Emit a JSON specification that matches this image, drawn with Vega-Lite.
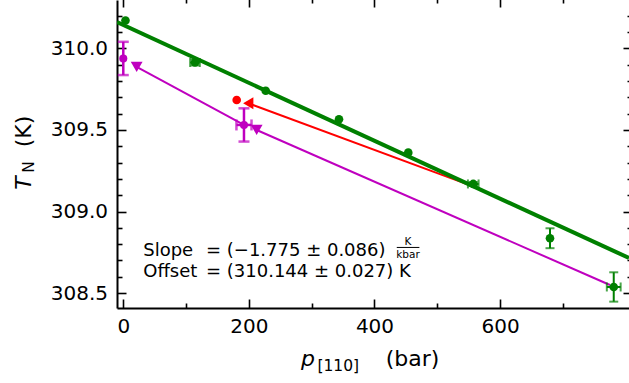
{
  "$schema": "https://vega.github.io/schema/vega-lite/v6.json",
  "width": 512,
  "height": 308,
  "autosize": {"type": "none"},
  "padding": {"left": 117, "top": 0, "right": 0, "bottom": 75},
  "config": {
    "view": {"stroke": null},
    "font": "DejaVu Sans",
    "axis": {
      "grid": false,
      "domainColor": "black",
      "domainWidth": 2,
      "tickColor": "black",
      "tickWidth": 1.6,
      "labelColor": "black",
      "labelFont": "DejaVu Sans",
      "labelFontSize": 20,
      "labelOverlap": false,
      "labelFlush": false,
      "title": null
    }
  },
  "datasets": {
    "fit": [{"x": -10, "y": 310.1618}, {"x": 805.3, "y": 308.7146}],
    "magentaLines": [
      {"seg": "A", "x": 192.2, "y": 309.531},
      {"seg": "A", "x": 21.3, "y": 309.887},
      {"seg": "B", "x": 775, "y": 308.549},
      {"seg": "B", "x": 212.4, "y": 309.5}
    ],
    "redLine": [{"x": 199, "y": 309.664}, {"x": 549.5, "y": 309.165}],
    "green": [
      {"x": 3.5, "y": 310.172},
      {"x": 114.2, "y": 309.914},
      {"x": 226.8, "y": 309.741},
      {"x": 343.5, "y": 309.566},
      {"x": 453.8, "y": 309.361},
      {"x": 557.3, "y": 309.169},
      {"x": 679.5, "y": 308.836},
      {"x": 781, "y": 308.537}
    ],
    "greenYerr": [
      {"x": 114.2, "ylo": 309.896, "yhi": 309.932},
      {"x": 557.3, "ylo": 309.157, "yhi": 309.181},
      {"x": 679.5, "ylo": 308.775, "yhi": 308.897},
      {"x": 781, "ylo": 308.447, "yhi": 308.627}
    ],
    "greenXerr": [
      {"y": 309.914, "xlo": 106.5, "xhi": 121.9},
      {"y": 309.169, "xlo": 548.8, "xhi": 565.8},
      {"y": 308.537, "xlo": 770, "xhi": 792}
    ],
    "magenta": [
      {"x": 0, "y": 309.939},
      {"x": 192.2, "y": 309.531}
    ],
    "magentaYerr": [
      {"x": 0, "ylo": 309.837, "yhi": 310.041},
      {"x": 192.2, "ylo": 309.429, "yhi": 309.633}
    ],
    "magentaXerr": [
      {"y": 309.531, "xlo": 180.2, "xhi": 204.2}
    ],
    "magentaTri": [
      {"x": 21.3, "y": 309.887},
      {"x": 212.4, "y": 309.5}
    ],
    "redDot": [{"x": 180.6, "y": 309.684}],
    "redTri": [{"x": 199, "y": 309.664}],
    "labelWords": [
      {"x": 31.8, "y": 308.727, "text": "Slope"},
      {"x": 31.8, "y": 308.596, "text": "Offset"}
    ],
    "labelValues": [
      {"x": 131.7, "y": 308.727, "text": "= (−1.775 ± 0.086)"},
      {"x": 131.7, "y": 308.596, "text": "= (310.144 ± 0.027) K"}
    ],
    "fracText": [
      {"x": 453.3, "y": 308.7975, "text": "K"},
      {"x": 453.3, "y": 308.7178, "text": "kbar"}
    ],
    "fracBar": [{"x": 435.5, "x2": 471.5, "y": 308.7795}],
    "xTitleItalic": [{"x": 294.0, "y": 308.052, "text": "p"}],
    "xTitleSub": [{"x": 342.4, "y": 308.0215, "text": "[110]"}],
    "xTitleUnit": [{"x": 460.5, "y": 308.052, "text": "(bar)"}],
    "yTitleItalic": [{"x": -146.2, "y": 309.175, "text": "T"}],
    "yTitleSub": [{"x": -141.5, "y": 309.273, "text": "N"}],
    "yTitleUnit": [{"x": -146.2, "y": 309.491, "text": "(K)"}]
  },
  "encoding": {
    "x": {"field": "x", "type": "quantitative", "scale": {"domain": [-10, 805.3], "nice": false, "zero": false}, "axis": null},
    "y": {"field": "y", "type": "quantitative", "scale": {"domain": [308.408, 310.2975], "nice": false, "zero": false}, "axis": null}
  },
  "resolve": {"axis": {"x": "independent", "y": "independent"}},
  "layer": [
    {
      "data": {"name": "magentaLines"},
      "mark": {"type": "line", "color": "#bf00bf", "strokeWidth": 2},
      "encoding": {
        "detail": {"field": "seg"},
        "x": {"field": "x", "type": "quantitative", "scale": {"domain": [-10, 805.3], "nice": false, "zero": false},
          "axis": {"orient": "bottom", "values": [0, 100, 200, 300, 400, 500, 600, 700],
            "labelExpr": "datum.value % 200 === 0 ? datum.label : ''",
            "tickSize": {"condition": {"test": "datum.value % 200 === 0", "value": -9}, "value": -5},
            "labelPadding": 17, "title": null}},
        "y": {"field": "y", "type": "quantitative", "scale": {"domain": [308.408, 310.2975], "nice": false, "zero": false},
          "axis": {"orient": "left", "values": [308.5, 308.6, 308.7, 308.8, 308.9, 309.0, 309.1, 309.2, 309.3, 309.4, 309.5, 309.6, 309.7, 309.8, 309.9, 310.0, 310.1, 310.2],
            "labelExpr": "abs(datum.value * 2 - round(datum.value * 2)) < 0.001 ? format(datum.value, '.1f') : ''",
            "tickSize": {"condition": {"test": "abs(datum.value * 2 - round(datum.value * 2)) < 0.001", "value": -9}, "value": -5},
            "labelPadding": 18.5, "title": null}}
      }
    },
    {
      "data": {"name": "redLine"},
      "mark": {"type": "line", "color": "#ff0000", "strokeWidth": 2},
      "encoding": {
        "x": {"field": "x", "type": "quantitative", "scale": {"domain": [-10, 805.3], "nice": false, "zero": false},
          "axis": {"orient": "top", "offset": 2, "values": [0, 100, 200, 300, 400, 500, 600, 700], "labels": false,
            "tickSize": {"condition": {"test": "datum.value % 200 === 0", "value": -9}, "value": -5},
            "domain": false, "title": null}},
        "y": {"field": "y", "type": "quantitative", "scale": {"domain": [308.408, 310.2975], "nice": false, "zero": false},
          "axis": {"orient": "right", "offset": 3, "values": [308.5, 308.6, 308.7, 308.8, 308.9, 309.0, 309.1, 309.2, 309.3, 309.4, 309.5, 309.6, 309.7, 309.8, 309.9, 310.0, 310.1, 310.2], "labels": false,
            "tickSize": {"condition": {"test": "abs(datum.value * 2 - round(datum.value * 2)) < 0.001", "value": -9}, "value": -5},
            "domain": false, "title": null}}
      }
    },
    {
      "data": {"name": "fit"},
      "mark": {"type": "line", "color": "#008000", "strokeWidth": 4, "clip": true}
    },
    {
      "data": {"name": "greenYerr"},
      "mark": {"type": "errorbar", "color": "#008000", "ticks": {"size": 9, "thickness": 2}, "thickness": 2},
      "encoding": {
        "y": {"field": "ylo", "type": "quantitative", "scale": {"domain": [308.408, 310.2975], "nice": false, "zero": false}, "axis": null},
        "y2": {"field": "yhi"}
      }
    },
    {
      "data": {"name": "greenXerr"},
      "mark": {"type": "errorbar", "color": "#008000", "ticks": {"size": 9, "thickness": 2}, "thickness": 2},
      "encoding": {
        "x": {"field": "xlo", "type": "quantitative", "scale": {"domain": [-10, 805.3], "nice": false, "zero": false}, "axis": null},
        "x2": {"field": "xhi"}
      }
    },
    {
      "data": {"name": "green"},
      "mark": {"type": "point", "shape": "circle", "filled": true, "color": "#008000", "opacity": 1, "size": 75}
    },
    {
      "data": {"name": "magentaYerr"},
      "mark": {"type": "errorbar", "color": "#bf00bf", "ticks": {"size": 11, "thickness": 2.5}, "thickness": 2.5},
      "encoding": {
        "y": {"field": "ylo", "type": "quantitative", "scale": {"domain": [308.408, 310.2975], "nice": false, "zero": false}, "axis": null},
        "y2": {"field": "yhi"}
      }
    },
    {
      "data": {"name": "magentaXerr"},
      "mark": {"type": "errorbar", "color": "#bf00bf", "ticks": {"size": 11, "thickness": 2.5}, "thickness": 2.5},
      "encoding": {
        "x": {"field": "xlo", "type": "quantitative", "scale": {"domain": [-10, 805.3], "nice": false, "zero": false}, "axis": null},
        "x2": {"field": "xhi"}
      }
    },
    {
      "data": {"name": "magenta"},
      "mark": {"type": "point", "shape": "circle", "filled": true, "color": "#bf00bf", "opacity": 1, "size": 65}
    },
    {
      "data": {"name": "redDot"},
      "mark": {"type": "point", "shape": "circle", "filled": true, "color": "#ff0000", "opacity": 1, "size": 75}
    },
    {
      "data": {"name": "magentaTri"},
      "mark": {"type": "point", "shape": "triangle-down", "filled": true, "color": "#bf00bf", "opacity": 1, "size": 140}
    },
    {
      "data": {"name": "redTri"},
      "mark": {"type": "point", "shape": "triangle-left", "filled": true, "color": "#ff0000", "opacity": 1, "size": 140}
    },
    {
      "data": {"name": "fracBar"},
      "mark": {"type": "rule", "color": "black", "strokeWidth": 1},
      "encoding": {
        "x2": {"field": "x2"}
      }
    },
    {
      "data": {"name": "labelWords"},
      "mark": {"type": "text", "align": "left", "baseline": "alphabetic", "fontSize": 18, "font": "DejaVu Sans", "color": "black"},
      "encoding": {"text": {"field": "text"}}
    },
    {
      "data": {"name": "labelValues"},
      "mark": {"type": "text", "align": "left", "baseline": "alphabetic", "fontSize": 18, "font": "DejaVu Sans", "color": "black"},
      "encoding": {"text": {"field": "text"}}
    },
    {
      "data": {"name": "fracText"},
      "mark": {"type": "text", "align": "center", "baseline": "alphabetic", "fontSize": 10.5, "font": "DejaVu Sans", "color": "black"},
      "encoding": {"text": {"field": "text"}}
    },
    {
      "data": {"name": "xTitleItalic"},
      "mark": {"type": "text", "align": "center", "baseline": "alphabetic", "fontSize": 22, "fontStyle": "italic", "font": "DejaVu Sans", "color": "black"},
      "encoding": {"text": {"field": "text"}}
    },
    {
      "data": {"name": "xTitleSub"},
      "mark": {"type": "text", "align": "center", "baseline": "alphabetic", "fontSize": 15.5, "font": "DejaVu Sans", "color": "black"},
      "encoding": {"text": {"field": "text"}}
    },
    {
      "data": {"name": "xTitleUnit"},
      "mark": {"type": "text", "align": "center", "baseline": "alphabetic", "fontSize": 22, "font": "DejaVu Sans", "color": "black"},
      "encoding": {"text": {"field": "text"}}
    },
    {
      "data": {"name": "yTitleItalic"},
      "mark": {"type": "text", "align": "center", "baseline": "alphabetic", "angle": 270, "fontSize": 22, "fontStyle": "italic", "font": "DejaVu Sans", "color": "black"},
      "encoding": {"text": {"field": "text"}}
    },
    {
      "data": {"name": "yTitleSub"},
      "mark": {"type": "text", "align": "center", "baseline": "alphabetic", "angle": 270, "fontSize": 15.5, "font": "DejaVu Sans", "color": "black"},
      "encoding": {"text": {"field": "text"}}
    },
    {
      "data": {"name": "yTitleUnit"},
      "mark": {"type": "text", "align": "center", "baseline": "alphabetic", "angle": 270, "fontSize": 22, "font": "DejaVu Sans", "color": "black"},
      "encoding": {"text": {"field": "text"}}
    }
  ]
}
